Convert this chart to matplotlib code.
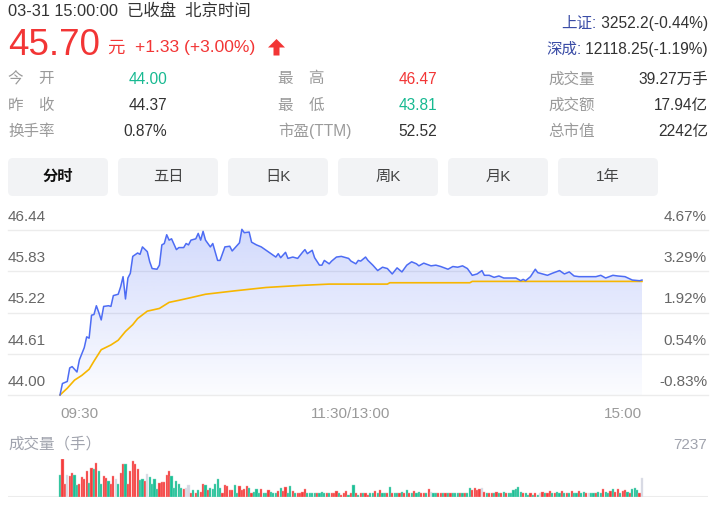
import matplotlib
matplotlib.use('Agg')
import matplotlib.pyplot as plt
import numpy as np
from matplotlib.patches import FancyBboxPatch, Polygon
from matplotlib.transforms import IdentityTransform

plt.rcParams['font.family'] = ['Liberation Sans', 'Noto Sans CJK SC', 'DejaVu Sans']

W, H = 720, 508

# header / quote
quote_time = '03-31 15:00:00'
status = '已收盘'
tz_name = '北京时间'
last_price = '45.70'
change_text = '+1.33 (+3.00%)'
prev_close = 44.37
indices = [('上证:', ' 3252.2(-0.44%)'), ('深成:', ' 12118.25(-1.19%)')]

stat_labels = [['今\u3000开', '昨\u3000收', '换手率'],
               ['最\u3000高', '最\u3000低', '市盈(TTM)'],
               ['成交量', '成交额', '总市值']]
stat_values = [['44.00', '44.37', '0.87%'],
               ['46.47', '43.81', '52.52'],
               ['39.27万手', '17.94亿', '2242亿']]
stat_kinds = [['down', 'flat', 'flat'],
              ['up', 'down', 'flat'],
              ['flat', 'flat', 'flat']]

tabs = ['分时', '五日', '日K', '周K', '月K', '1年']

price_levels = [44.00, 44.61, 45.22, 45.83, 46.44]
time_labels = ['09:30', '11:30/13:00', '15:00']
vol_max = 7237

# minute price readings (minute index from 09:30, 240 = 15:00)
price_t = [0, 1, 3, 4, 5, 7, 8, 10, 11, 12,
           13, 14, 15, 16, 17, 18, 20, 21, 22, 24,
           25, 26, 27, 28, 29, 30, 32, 33, 34, 36,
           37, 38, 40, 41, 42, 43, 44, 45, 46, 48,
           49, 51, 52, 53, 54, 56, 57, 58, 59, 60,
           62, 63, 65, 66, 68, 70, 71, 73, 74, 75,
           76, 78, 79, 81, 83, 85, 87, 89, 90, 91,
           92, 93, 94, 96, 98, 100, 101, 102, 104, 105,
           107, 108, 109, 111, 112, 114, 116, 118, 119, 120,
           122, 123, 124, 126, 127, 129, 131, 133, 135, 137,
           139, 141, 143, 145, 147, 148, 150, 153, 155, 157,
           160, 162, 164, 166, 168, 170, 172, 174, 175, 177,
           179, 181, 183, 185, 188, 190, 191, 192, 194, 196,
           197, 199, 201, 203, 206, 208, 210, 212, 214, 218,
           221, 223, 225, 228, 230, 233, 236, 239, 240]
price_p = [44.00, 44.17, 44.20, 44.40, 44.42, 44.34, 44.52, 44.70, 44.86, 44.84,
           45.18, 45.19, 45.32, 45.22, 45.11, 45.31, 45.32, 45.31, 45.47, 45.49,
           45.60, 45.75, 45.42, 45.73, 45.80, 46.05, 46.10, 46.08, 46.19, 46.12,
           45.97, 45.87, 45.86, 45.92, 46.22, 46.24, 46.37, 46.29, 46.31, 46.15,
           46.18, 46.18, 46.24, 46.22, 46.29, 46.31, 46.39, 46.29, 46.42, 46.29,
           46.19, 46.24, 45.99, 45.99, 46.19, 46.20, 46.13, 46.21, 46.25, 46.45,
           46.40, 46.41, 46.26, 46.22, 46.19, 46.14, 46.09, 46.04, 46.09, 46.03,
           46.07, 46.11, 46.02, 46.04, 46.02, 46.11, 46.15, 46.09, 46.14, 46.03,
           45.92, 45.92, 45.99, 45.94, 45.98, 46.04, 46.05, 46.03, 46.02, 45.98,
           45.94, 45.99, 45.98, 46.04, 45.99, 45.92, 45.84, 45.89, 45.87, 45.79,
           45.88, 45.82, 45.92, 45.97, 45.94, 45.91, 45.95, 45.91, 45.92, 45.90,
           45.86, 45.90, 45.89, 45.91, 45.87, 45.77, 45.79, 45.84, 45.77, 45.77,
           45.74, 45.76, 45.73, 45.73, 45.73, 45.69, 45.71, 45.69, 45.75, 45.86,
           45.81, 45.79, 45.77, 45.80, 45.84, 45.79, 45.82, 45.76, 45.75, 45.75,
           45.75, 45.77, 45.73, 45.77, 45.76, 45.75, 45.70, 45.69, 45.70]

# average price line
avg_t = [0, 3, 6, 9, 12, 14, 17, 21, 24, 27, 30, 32, 36, 41, 45, 49, 54, 60,
         72, 85, 99, 111, 124, 135, 136, 169, 170, 240]
avg_p = [44.00, 44.10, 44.22, 44.29, 44.38, 44.50, 44.67, 44.74, 44.81, 44.94,
         45.04, 45.13, 45.24, 45.28, 45.37, 45.40, 45.44, 45.49,
         45.54, 45.59, 45.62, 45.64, 45.64, 45.64, 45.66, 45.66, 45.68, 45.68]

# volume per minute (手), 241 bars
volumes = [4220, 7237, 2500, 4220, 4030, 4610, 4220, 2300, 2500, 3840,
           3460, 4990, 2690, 5570, 5380, 6530, 4990, 2500, 4030, 3650,
           3070, 2500, 4030, 3460, 2500, 4610, 6340, 6340, 2500, 4990,
           6910, 6340, 5380, 3260, 3460, 3070, 4420, 3840, 2500, 3460,
           1540, 2690, 2880, 2880, 4220, 4990, 4030, 1730, 3070, 2500,
           1730, 1540, 1730, 2300, 770, 1340, 770, 1340, 960, 2500,
           2300, 1340, 1730, 1540, 2500, 3460, 1730, 770, 2300, 2110,
           1340, 1340, 2300, 770, 2110, 1340, 1540, 2110, 1730, 770,
           960, 1540, 770, 1540, 580, 770, 1340, 960, 580, 770,
           1150, 1730, 1150, 1920, 580, 2110, 1150, 770, 580, 770,
           960, 1540, 580, 580, 580, 770, 580, 580, 960, 580,
           580, 580, 580, 770, 1150, 580, 380, 580, 1150, 380,
           580,
           2300, 580, 380, 580, 580, 580, 380, 580, 770, 1150,
           770, 1340, 580, 770, 580, 1920, 580, 580, 770, 580,
           960, 770, 1340, 770, 580, 1150, 580, 960, 770, 580,
           580, 1540, 960, 770, 770, 580, 770, 580, 580, 770,
           580, 770, 770, 580, 770, 580, 770, 770, 1730, 1340,
           1730, 1340, 1540, 1730, 960, 770, 580, 770, 580, 960,
           770, 580, 960, 770, 580, 770, 1340, 1540, 1920, 960,
           580, 580, 380, 580, 380, 770, 380, 770, 960, 580,
           770, 1150, 770, 580, 960, 770, 1150, 770, 580, 770,
           1150, 580, 770, 1150, 580, 960, 580, 770, 580, 770,
           580, 960, 770, 1540, 960, 770, 1150, 1540, 960, 1540,
           770, 1150, 1340, 960, 770, 1540, 1730, 1340, 580, 3650]
# r = up, g = down, n = unchanged
vol_dirs = ('grrnrrggrr' 'rrgrgrggrr' 'grrngrrgrr' 'rrrggrnggg' 'grrrrrgggg'
            'grnnrgrgrr' 'grgggggrrr' 'rrggrrrrgr' 'gggrggrggg' 'rgrrggrgrr'
            'rrggggrggg' 'rgrrrgrrrgr'
            'grgrgrrggr' 'grggrgrggr' 'grgrgrggrr' 'grnggrrgrg' 'rgggrgrggr'
            'rrrnrgrrgr' 'grgrgggggg' 'rggrgrgnrg' 'rrgrggrgrg' 'rggrggrngg'
            'rggrggrgrr' 'grrgrgggrn')

RED = '#f23535'
GREEN = '#17b991'
DARK = '#333333'
GRAY = '#9a9a9a'
AXIS = '#666666'
BLUE = '#4d6cf4'
YELLOW = '#f7b600'
kind_color = {'up': RED, 'down': GREEN, 'flat': DARK}
bar_color = {'r': '#f53b3b', 'g': '#1bbf95', 'n': '#d5d8e2'}
bar_edge = {'r': '#f9a0a0', 'g': '#8fdcc8', 'n': '#e4e6ec'}

fig = plt.figure(figsize=(W / 100, H / 100), dpi=100)
fig.patch.set_facecolor('white')


def ftext(x, y, s, **kw):
    return fig.text(x / W, 1 - y / H, s, **kw)


# ---- header ----
ftext(8, 16, quote_time + '  ' + status + '  ' + tz_name, fontsize=11.8, color=DARK, va='baseline')
ftext(8, 55, last_price, fontsize=26.5, color=RED, va='baseline')
ftext(107, 53, '元', fontsize=12.5, color=RED, va='baseline')
ftext(135, 52, change_text, fontsize=12.6, color=RED, va='baseline')
arrow = [(268, 47.5), (276.5, 39), (285, 47.5), (279.5, 47.5), (279.5, 55.5),
         (273.5, 55.5), (273.5, 47.5)]
fig.patches.append(Polygon([(x / W, 1 - y / H) for x, y in arrow], closed=True,
                           transform=fig.transFigure, facecolor=RED, edgecolor='none'))

renderer = fig.canvas.get_renderer()
for (lab, val), yb in zip(indices, [28, 54]):
    t = ftext(708, yb, val, fontsize=11.2, color=DARK, ha='right', va='baseline')
    bb = t.get_window_extent(renderer)
    fig.text(bb.x0 / W, 1 - yb / H, lab, fontsize=11.2, color='#3a4ca6', ha='right', va='baseline')

col_label_x = [8, 278, 548]
col_value_x = [167, 437, 708]
row_y = [83.5, 110, 136]
for c in range(3):
    for r in range(3):
        ftext(col_label_x[c], row_y[r], stat_labels[c][r], fontsize=11.2, color=GRAY, va='baseline')
        ftext(col_value_x[c], row_y[r], stat_values[c][r], fontsize=11.2,
              color=kind_color[stat_kinds[c][r]], ha='right', va='baseline')

# ---- tabs ----
for i, name in enumerate(tabs):
    x0 = 8 + i * 110
    box = FancyBboxPatch((x0, H - 196), 100, 38, boxstyle='round,pad=0,rounding_size=5',
                         transform=IdentityTransform(), facecolor='#f2f3f5', edgecolor='none')
    fig.patches.append(box)
    ftext(x0 + 50, 177, name, fontsize=11, ha='center', va='center',
          color='#111111' if i == 0 else '#444444', fontweight='bold' if i == 0 else 'normal')

# ---- price chart ----
x_left = -(60 - 8) / 2.425
x_right = 240 + (708 - 642) / 2.425
ax = fig.add_axes([8 / W, 1 - 395 / H, 700 / W, (395 - 230) / H])
ax.set_xlim(x_left, x_right)
ax.set_ylim(price_levels[0], price_levels[-1])
ax.axis('off')

for p in price_levels:
    ax.axhline(p, color='#ececec', lw=1, zorder=1, clip_on=False)
    ax.annotate(f'{p:.2f}', xy=(8, p), xycoords=('figure pixels', 'data'),
                xytext=(0, 6.5), textcoords='offset points', fontsize=11, color=AXIS,
                va='baseline', ha='left', annotation_clip=False)
    pct = (p / prev_close - 1) * 100
    ax.annotate(f'{pct:.2f}%', xy=(707, p), xycoords=('figure pixels', 'data'),
                xytext=(0, 6.5), textcoords='offset points', fontsize=11, color=AXIS,
                va='baseline', ha='right', annotation_clip=False)

# gradient fill under the price line
grad = np.zeros((256, 1, 4))
base = np.array([77, 108, 244]) / 255
grad[:, 0, :3] = base
grad[:, 0, 3] = np.linspace(0.02, 0.25, 256)
im = ax.imshow(grad, extent=[0, 240, price_levels[0], price_levels[-1]], origin='lower',
               aspect='auto', zorder=2, interpolation='bilinear')
verts = [(price_t[0], price_levels[0])] + list(zip(price_t, price_p)) + [(price_t[-1], price_levels[0])]
clip = Polygon(verts, closed=True, facecolor='none', edgecolor='none')
ax.add_patch(clip)
im.set_clip_path(clip)

ax.plot(price_t, price_p, color=BLUE, lw=1.1, zorder=4, clip_on=False)
ax.plot(avg_t, avg_p, color=YELLOW, lw=1.2, zorder=3, clip_on=False)

for lab, t, ha in zip(time_labels, [0, 120, 240], ['left', 'center', 'right']):
    ax.annotate(lab, xy=(t, H - 418), xycoords=('data', 'figure pixels'), fontsize=11,
                color=GRAY, ha=ha, va='baseline', annotation_clip=False)

# ---- volume ----
ftext(8, 449, '成交量（手）', fontsize=11.2, color='#a0a3ad', va='baseline')
ftext(707, 449, str(vol_max), fontsize=11, color='#a0a3ad', ha='right', va='baseline')

vax = fig.add_axes([8 / W, 1 - 496.5 / H, 700 / W, (496.5 - 459) / H])
vax.set_xlim(x_left, x_right)
vax.set_ylim(0, vol_max)
vax.axis('off')
vax.axhline(0, color='#ececec', lw=1.5, zorder=1)
vax.bar(np.arange(len(volumes)), volumes, width=0.9,
        color=[bar_color[d] for d in vol_dirs],
        edgecolor=[bar_edge[d] for d in vol_dirs], linewidth=0.3, zorder=2)

fig.savefig('out.png', dpi=100, facecolor='white')
